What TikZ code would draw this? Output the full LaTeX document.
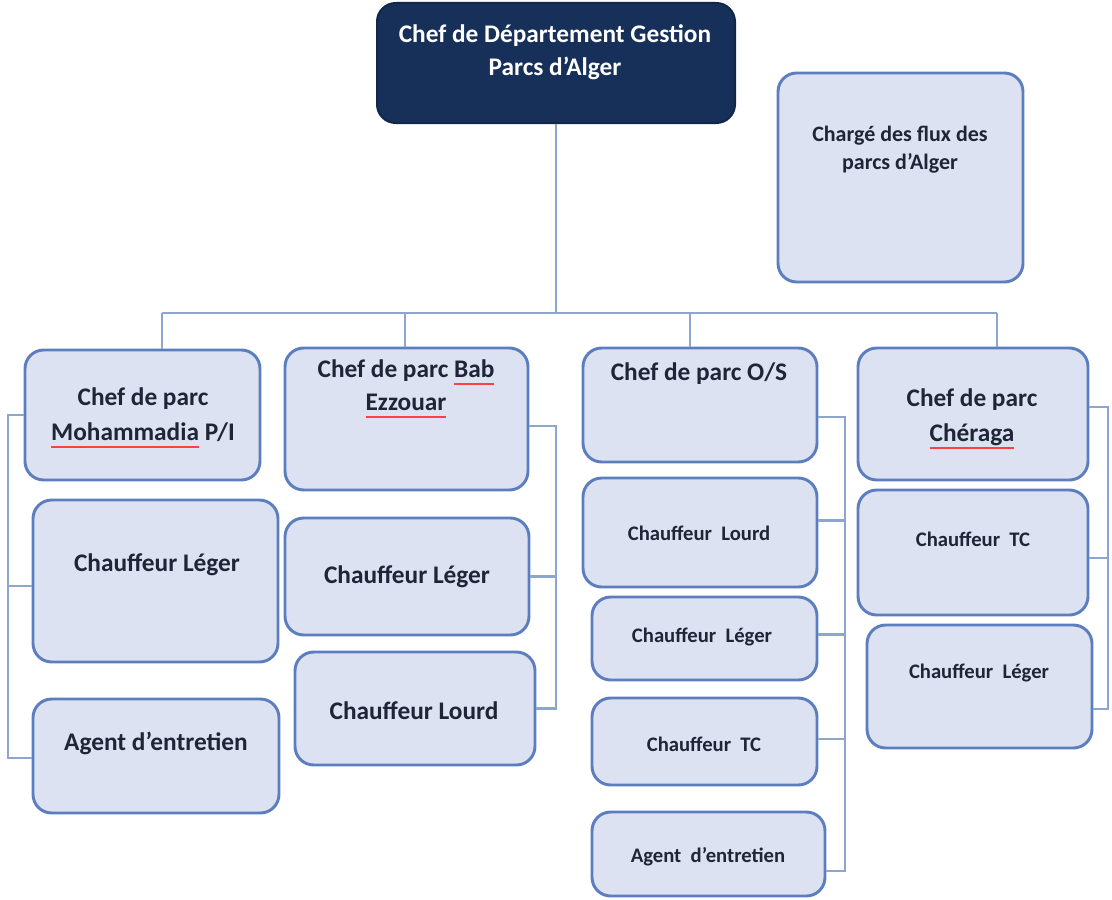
\documentclass[tikz,border=0pt]{standalone}
\usepackage{fontspec}
\setmainfont{Carlito}
\usetikzlibrary{fit}

\definecolor{boxfill}{HTML}{DCE2F1}
\definecolor{boxline}{HTML}{5C7EBE}
\definecolor{linkline}{HTML}{8CA6CE}
\definecolor{headfill}{HTML}{17305A}
\definecolor{inktext}{HTML}{1E2536}

% red spelling underline under a word
\newsavebox\spellbox
\newcommand\spellmark[1]{\sbox\spellbox{#1}\rlap{\textcolor{red!75}{\rule[-0.3em]{\wd\spellbox}{0.09em}}}\usebox\spellbox}

\tikzset{
  unitbox/.style={draw=boxline, fill=boxfill, line width=2.2pt, rounded corners=14pt, inner sep=0pt},
  headbox/.style={draw=headfill!80!black, fill=headfill, line width=1.5pt, rounded corners=14pt, inner sep=0pt},
  lbl/.style={font=\bfseries\fontsize{19}{24}\selectfont, text=inktext, align=center, inner sep=0pt},
  lblsmall/.style={font=\bfseries\fontsize{15.5}{20}\selectfont, text=inktext, align=center, inner sep=0pt},
  link/.style={draw=linkline, line width=1.6pt}
}

\begin{document}
\begin{tikzpicture}[x=0.75pt, y=-0.75pt]
\useasboundingbox (0,0) rectangle (1112,899);

% head of department
\node[headbox, fit={(377,3) (735,123)}] (top) {};
\node[lbl, text=white, font=\bfseries\fontsize{19}{25}\selectfont] (toptext) at (555,52) {Chef de Département Gestion\\Parcs d'Alger};

% flow officer
\node[unitbox, fit={(778,73) (1023,282)}] (flux) {};
\node[lbl, font=\bfseries\fontsize{16.5}{21}\selectfont] (fluxtext) at (900,150) {Chargé des flux des\\parcs d'Alger};

% column 1
\node[unitbox, fit={(25,350) (260,480)}] (c1h) {};
\node[lbl, font=\bfseries\fontsize{19}{26}\selectfont] (c1ht) at (143,418) {Chef de parc\\\spellmark{Mohammadia} P/I};
\node[unitbox, fit={(33,500) (278,662)}] (c1a) {};
\node[lbl] (c1at) at (157,565) {Chauffeur Léger};
\node[unitbox, fit={(33,699) (279,813)}] (c1b) {};
\node[lbl] (c1bt) at (156,743) {Agent d'entretien};

% column 2
\node[unitbox, fit={(285,348) (528,490)}] (c2h) {};
\node[lbl, font=\bfseries\fontsize{19}{25}\selectfont] (c2ht) at (406,389) {Chef de parc \spellmark{Bab}\\\spellmark{Ezzouar}};
\node[unitbox, fit={(285,518) (529,635)}] (c2a) {};
\node[lbl] (c2at) at (407,577) {Chauffeur Léger};
\node[unitbox, fit={(295,652) (535,765)}] (c2b) {};
\node[lbl] (c2bt) at (414,711) {Chauffeur Lourd};

% column 3
\node[unitbox, fit={(583,348) (817,462)}] (c3h) {};
\node[lbl] (c3ht) at (699,374) {Chef de parc O/S};
\node[unitbox, fit={(583,478) (817,587)}] (c3a) {};
\node[lblsmall] (c3at) at (699,533) {Chauffeur\ \ Lourd};
\node[unitbox, fit={(592,597) (817,680)}] (c3b) {};
\node[lblsmall] (c3bt) at (702,637) {Chauffeur\ \ Léger};
\node[unitbox, fit={(592,698) (817,785)}] (c3c) {};
\node[lblsmall] (c3ct) at (704,744) {Chauffeur\ \ TC};
\node[unitbox, fit={(592,812) (825,896)}] (c3d) {};
\node[lblsmall] (c3dt) at (708,857) {Agent\ \ d'entretien};

% column 4
\node[unitbox, fit={(858,348) (1088,480)}] (c4h) {};
\node[lbl, font=\bfseries\fontsize{19}{26}\selectfont] (c4ht) at (972,419) {Chef de parc\\\spellmark{Chéraga}};
\node[unitbox, fit={(858,490) (1088,615)}] (c4a) {};
\node[lblsmall] (c4at) at (973,539) {Chauffeur\ \ TC};
\node[unitbox, fit={(867,625) (1092,748)}] (c4b) {};
\node[lblsmall] (c4bt) at (979,673) {Chauffeur\ \ Léger};

% distribution bus below the head box
\coordinate (b1) at (162,313);
\coordinate (b2) at (405,313);
\coordinate (b3) at (690,313);
\coordinate (b4) at (997,313);
\draw[link] (top.south) -- (top.south |- b1);
\draw[link] (b1) -- (b4);
\draw[link] (b1) -- (b1 |- c1h.north);
\draw[link] (b2) -- (b2 |- c2h.north);
\draw[link] (b3) -- (b3 |- c3h.north);
\draw[link] (b4) -- (b4 |- c4h.north);

% column 1 rail (left side)
\coordinate (r1) at (8,0);
\draw[link] (c1h.west) -- (c1h.west -| r1) -- ([yshift=-1.5pt]c1b.west -| r1) -- ([yshift=-1.5pt]c1b.west);
\draw[link] ([yshift=-4pt]c1a.west) -- ([yshift=-4pt]c1a.west -| r1);

% column 2 rail (right side)
\coordinate (r2) at (556,0);
\draw[link] ([yshift=-5pt]c2h.east) -- ([yshift=-5pt]c2h.east -| r2) -- (c2b.east -| r2) -- (c2b.east);
\draw[link] (c2a.east) -- (c2a.east -| r2);

% column 3 rail (right side)
\coordinate (r3) at (845,0);
\draw[link] ([yshift=-9pt]c3h.east) -- ([yshift=-9pt]c3h.east -| r3) -- ([yshift=-13pt]c3d.east -| r3) -- ([yshift=-13pt]c3d.east);
\draw[link] ([yshift=9pt]c3a.east) -- ([yshift=9pt]c3a.east -| r3);
\draw[link] ([yshift=3pt]c3b.east) -- ([yshift=3pt]c3b.east -| r3);
\draw[link] ([yshift=2pt]c3c.east) -- ([yshift=2pt]c3c.east -| r3);

% column 4 rail (right side)
\coordinate (r4) at (1108,0);
\draw[link] ([yshift=5pt]c4h.east) -- ([yshift=5pt]c4h.east -| r4) -- ([yshift=-17pt]c4b.east -| r4) -- ([yshift=-17pt]c4b.east);
\draw[link] ([yshift=-4pt]c4a.east) -- ([yshift=-4pt]c4a.east -| r4);
\end{tikzpicture}
\end{document}
